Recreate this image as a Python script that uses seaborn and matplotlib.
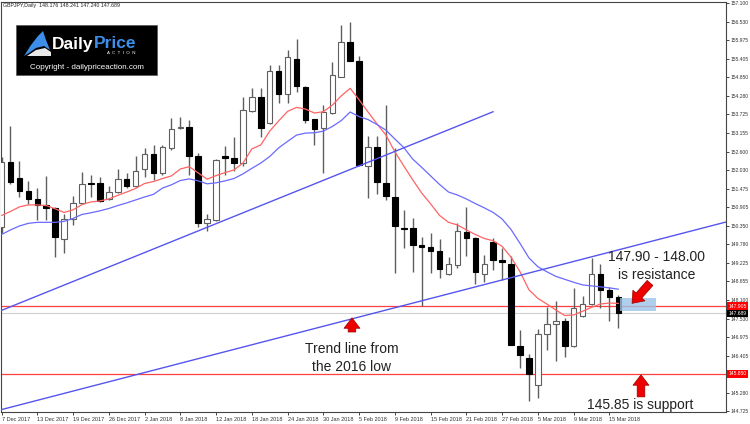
import numpy as np
import pandas as pd
import seaborn as sns
import matplotlib.pyplot as plt
import matplotlib.transforms as mtransforms
from matplotlib.patches import Rectangle, Polygon

# GBPJPY daily candles, 7 Dec 2017 .. 16 Mar 2018 (one value per trading day)
opens = [150.32, 152.27, 151.79, 151.40, 151.16, 150.99, 150.88, 149.94, 150.54, 151.03,
         151.65, 151.64, 151.15, 151.38, 151.77, 151.56, 152.06, 152.52, 151.96, 152.72,
         153.31, 153.35, 152.47, 150.42, 150.52, 152.47, 152.40, 152.26, 153.83, 154.27,
         153.46, 155.05, 154.36, 155.41, 154.57, 153.59, 153.31, 153.77, 154.87, 155.93,
         155.36, 152.15, 152.74, 151.63, 151.23, 150.28, 150.27, 149.76, 149.71, 149.59,
         148.88, 149.14, 150.17, 149.97, 148.88, 149.84, 149.31, 149.19, 146.71, 146.34,
         145.50, 147.05, 147.36, 147.44, 146.69, 147.60, 147.97, 148.88, 148.40, 148.176]
highs = [152.43, 153.38, 152.32, 151.72, 151.50, 151.86, 150.92, 150.71, 151.25, 151.99,
         151.89, 151.84, 151.56, 152.06, 151.94, 152.47, 152.70, 152.80, 152.80, 153.61,
         153.64, 153.56, 152.55, 150.70, 152.36, 152.77, 153.05, 154.25, 154.54, 154.54,
         155.23, 155.23, 155.67, 156.03, 154.60, 153.60, 154.01, 155.32, 156.44, 156.54,
         155.49, 153.06, 153.07, 154.01, 152.70, 150.81, 150.59, 150.02, 150.14, 149.94,
         149.40, 150.42, 150.92, 150.00, 149.45, 149.97, 149.67, 149.43, 147.19, 146.46,
         147.21, 147.88, 148.05, 147.56, 148.47, 148.20, 149.37, 149.17, 148.49, 148.241]
lows = [150.13, 151.62, 151.21, 151.01, 150.52, 150.52, 149.41, 149.53, 150.37, 151.00,
        151.23, 151.08, 151.12, 151.33, 151.49, 151.52, 151.82, 151.74, 151.89, 152.65,
        153.29, 151.89, 150.32, 150.20, 150.50, 151.89, 152.02, 152.16, 153.81, 153.05,
        153.44, 154.07, 154.08, 154.41, 153.47, 152.80, 151.94, 153.74, 154.85, 155.34,
        152.17, 151.18, 151.31, 151.13, 148.91, 149.66, 148.95, 147.92, 148.91, 148.77,
        148.85, 149.07, 149.43, 148.58, 148.63, 149.01, 148.70, 146.72, 146.03, 145.03,
        145.11, 146.56, 146.24, 146.37, 146.66, 147.57, 147.94, 147.86, 147.46, 147.240]
closes = [152.29, 151.69, 151.41, 151.16, 150.98, 150.90, 150.00, 150.54, 151.05, 151.62,
          151.62, 151.10, 151.38, 151.77, 151.56, 152.02, 152.52, 151.96, 152.73, 153.28,
          153.35, 152.47, 150.42, 150.54, 152.34, 152.41, 152.26, 153.86, 154.27, 153.32,
          155.05, 154.36, 155.47, 154.58, 153.56, 153.28, 153.81, 154.92, 155.93, 155.36,
          152.19, 152.75, 151.69, 151.24, 150.34, 150.26, 149.76, 149.71, 149.58, 149.03,
          149.18, 150.18, 149.97, 148.93, 149.17, 149.31, 149.26, 146.74, 146.43, 145.85,
          147.06, 147.36, 147.45, 146.69, 147.84, 147.96, 148.88, 148.41, 148.17, 147.689]

# moving averages as drawn on the chart
ma_fast = [150.66, 150.78, 150.92, 150.98, 150.98, 150.96, 150.86, 150.75, 150.83, 150.99,
           151.07, 151.10, 151.16, 151.27, 151.37, 151.48, 151.63, 151.69, 151.78, 151.86,
           152.07, 152.14, 151.95, 151.76, 151.87, 151.96, 152.04, 152.25, 152.68, 152.80,
           153.22, 153.53, 153.82, 153.94, 153.89, 153.77, 153.81, 154.01, 154.29, 154.52,
           154.17, 153.80, 153.44, 153.10, 152.59, 152.16, 151.74, 151.34, 151.01, 150.66,
           150.45, 150.37, 150.22, 150.08, 149.96, 149.89, 149.72, 149.39, 148.95, 148.40,
           148.14, 147.97, 147.79, 147.62, 147.64, 147.75, 147.87, 147.97, 148.00, 147.99]
ma_slow = [150.08, 150.22, 150.34, 150.42, 150.45, 150.45, 150.45, 150.48, 150.57, 150.69,
           150.74, 150.80, 150.87, 150.96, 151.04, 151.13, 151.22, 151.30, 151.49, 151.59,
           151.72, 151.77, 151.71, 151.62, 151.65, 151.71, 151.78, 151.92, 152.09, 152.25,
           152.45, 152.71, 152.91, 153.10, 153.16, 153.17, 153.22, 153.36, 153.54, 153.80,
           153.66, 153.57, 153.42, 153.25, 152.98, 152.72, 152.37, 152.12, 151.86, 151.60,
           151.37, 151.28, 151.16, 151.02, 150.89, 150.75, 150.55, 150.23, 149.81, 149.37,
           149.10, 148.95, 148.81, 148.72, 148.63, 148.55, 148.52, 148.49, 148.46, 148.42]

date_labels = ["7 Dec 2017", "13 Dec 2017", "19 Dec 2017", "26 Dec 2017", "2 Jan 2018",
               "8 Jan 2018", "12 Jan 2018", "18 Jan 2018", "24 Jan 2018", "30 Jan 2018",
               "5 Feb 2018", "9 Feb 2018", "15 Feb 2018", "21 Feb 2018", "27 Feb 2018",
               "5 Mar 2018", "9 Mar 2018", "15 Mar 2018"]
price_ticks = [157.100, 156.530, 155.975, 155.405, 154.850, 154.280, 153.725, 153.155,
               152.600, 152.030, 151.475, 150.905, 150.350, 149.780, 149.225, 148.655,
               148.100, 147.530, 146.975, 146.405, 145.850, 145.280, 144.725]

resistance_level = 147.905
support_level = 145.850
last_price = 147.689

# trend line end points (bar, price)
trend_low_bars = [-0.06, 81.04]
trend_low_prices = [144.76, 150.46]
trend_up_bars = [-0.06, 55.0]
trend_up_prices = [147.77, 153.81]


def fx(x):
    return x / 750


def fy(y):
    return 1 - y / 424


sns.set_style("white")
plt.rcParams['font.family'] = ['Liberation Sans', 'DejaVu Sans']

df = pd.DataFrame({'open': opens, 'high': highs, 'low': lows, 'close': closes,
                   'fast': ma_fast, 'slow': ma_slow})
df['bar'] = np.arange(len(df))
bull = (df['close'] >= df['open']).values

fig = plt.figure(figsize=(7.5, 4.24), dpi=100)
ax = fig.add_axes([1 / 750, 12.3 / 424, 725 / 750, 410 / 424])

# candles
ax.vlines(df['bar'], df['low'], df['high'], color='#5f5f5f', lw=1, zorder=2)
body_lo = df[['open', 'close']].min(axis=1)
body_h = (df['close'] - df['open']).abs().clip(lower=0.015)
ax.bar(df['bar'], body_h, bottom=body_lo, width=0.62,
       color=['white' if b else 'black' for b in bull],
       edgecolor=['#5f5f5f' if b else 'black' for b in bull],
       linewidth=0.8, zorder=3)

# moving averages
sns.lineplot(x=df['bar'], y=df['fast'], ax=ax, color='#ff6464', lw=0.9, zorder=4)
sns.lineplot(x=df['bar'], y=df['slow'], ax=ax, color='#6a6aff', lw=0.9, zorder=4)

# levels and trend lines
ax.axhline(resistance_level, color='#ff4040', lw=0.9, zorder=1)
ax.axhline(support_level, color='#ff4040', lw=0.9, zorder=1)
ax.axhline(last_price, color='#cfcfcf', lw=0.8, zorder=1)
ax.plot(trend_low_bars, trend_low_prices, color='#5555f0', lw=1, zorder=4)
ax.plot(trend_up_bars, trend_up_prices, color='#5555f0', lw=1, zorder=4)

# resistance zone
ax.add_patch(Rectangle((69.2, 147.76), 4.0, 0.40, facecolor='#9cc4e8',
                       edgecolor='none', alpha=0.8, zorder=5))

ax.set_xlim(-0.06, 81.04)
ax.set_ylim(144.70, 157.15)
ax.set_xlabel('')
ax.set_ylabel('')

# the 145.850 tick label sits under the support price box
ax.yaxis.tick_right()
ax.set_yticks(price_ticks)
ax.set_yticklabels(['' if v == support_level else f'{v:.3f}' for v in price_ticks],
                   fontsize=3.6, color='#333333')
ax.tick_params(axis='y', length=2, width=0.6, pad=1.5, direction='out', right=True)

ax.set_xticks(range(0, len(df), 4))
ax.set_xticklabels(date_labels, fontsize=4, color='#333333', ha='left')
ax.tick_params(axis='x', length=2.5, width=0.6, pad=1.5, direction='out', bottom=True)

for s in ax.spines.values():
    s.set_color('#444444')
    s.set_linewidth(0.8)

# price boxes on the right
trans = mtransforms.blended_transform_factory(ax.transAxes, ax.transData)
for val, bg in [(resistance_level, '#ff0000'), (last_price, '#000000'), (support_level, '#ff0000')]:
    ax.text(1.003, val, f'{val:.3f}', transform=trans, fontsize=3.6, color='white',
            va='center', ha='left', zorder=10, clip_on=False,
            bbox=dict(boxstyle='square,pad=0.25', fc=bg, ec='none'))

# arrows
arrow = dict(arrowstyle='simple,head_width=1.15,head_length=0.75,tail_width=0.55',
             fc='#ee0000', ec='#9a0000', lw=0.5, mutation_scale=10, shrinkA=0, shrinkB=0)
ax.annotate('', xy=(70.53, 147.99), xytext=(72.54, 148.61), arrowprops=arrow, zorder=6)
ax.annotate('', xy=(71.53, 145.82), xytext=(71.53, 145.15), arrowprops=arrow, zorder=6)
ax.annotate('', xy=(39.2, 147.55), xytext=(39.2, 147.12), arrowprops=arrow, zorder=6)

# annotation text
txt = dict(fontsize=10, color='#222222', ha='center', va='center')
fig.text(fx(657), fy(257), '147.90 - 148.00', **txt)
fig.text(fx(657), fy(275), 'is resistance', **txt)
fig.text(fx(352), fy(349), 'Trend line from', **txt)
fig.text(fx(352), fy(367), 'the 2016 low', **txt)
fig.text(fx(640), fy(405), '145.85 is support', **txt)

# header
fig.text(fx(3), fy(6), 'GBPJPY,Daily  148.176 148.241 147.240 147.689',
         fontsize=3.8, color='#222222', ha='left', va='center')

# logo box
fig.add_artist(Rectangle((fx(16), fy(75)), 141 / 750, 50 / 424, transform=fig.transFigure,
                         fc='black', ec='#555555', lw=0.5, zorder=10))
icon = [(24, 56), (31, 45), (38, 36), (43, 31), (46, 40), (50, 50), (44, 46), (36, 48), (29, 53)]
fig.add_artist(Polygon([(fx(a), fy(b)) for a, b in icon], closed=True, transform=fig.transFigure,
                       fc='#3d8ee8', ec='none', zorder=11))
swoosh = [(27, 56), (36, 50), (45, 48), (51, 52), (51, 56)]
fig.add_artist(Polygon([(fx(a), fy(b)) for a, b in swoosh], closed=True, transform=fig.transFigure,
                       fc='#e8e8e8', ec='none', zorder=11))
fig.text(fx(52), fy(44), 'Daily', fontsize=12.5, fontweight='bold', color='white',
         ha='left', va='center', zorder=12)
fig.text(fx(94), fy(44), 'Price', fontsize=12.5, fontweight='bold', color='#3d8ee8',
         ha='left', va='center', zorder=12)
fig.text(fx(121), fy(53), 'A  C  T  I  O  N', fontsize=3.2, color='white',
         ha='center', va='center', zorder=12)
fig.text(fx(86.5), fy(67.5), 'Copyright - dailypriceaction.com', fontsize=5.8,
         color='white', ha='center', va='center', zorder=12)

fig.savefig('out.png', dpi=100)
